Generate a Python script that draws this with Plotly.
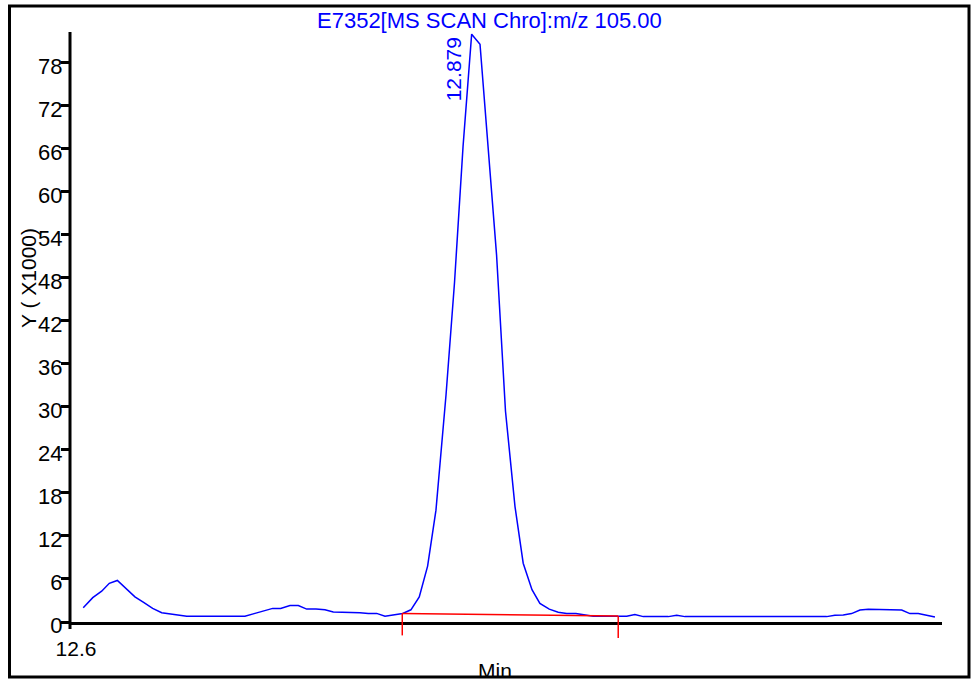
import plotly.graph_objects as go

# Extracted ion chromatogram, m/z 105.00
# retention time (min) and intensity (x1000 counts)
rt_min = [
    12.6092, 12.6158, 12.6220, 12.6273, 12.6329, 12.6389, 12.6451, 12.6514,
    12.6574, 12.6637, 12.6695, 12.6752, 12.6811, 12.6868, 12.6926, 12.6984,
    12.7042, 12.7099, 12.7158, 12.7215, 12.7285, 12.7347, 12.7408, 12.7463,
    12.7528, 12.7586, 12.7644, 12.7709, 12.7771, 12.7829, 12.7894, 12.7957,
    12.8014, 12.8072, 12.8130, 12.8188, 12.8245, 12.8311, 12.8368, 12.8426,
    12.8484, 12.8542, 12.8612, 12.8671, 12.8730, 12.8790, 12.8848, 12.8905,
    12.8963, 12.9025, 12.9091, 12.9148, 12.9209, 12.9264, 12.9329, 12.9391,
    12.9450, 12.9514, 12.9577, 12.9635, 12.9693, 12.9751, 12.9808, 12.9867,
    12.9924, 12.9982, 13.0040, 13.0098, 13.0156, 13.0214, 13.0272, 13.0329,
    13.0387, 13.0445, 13.0503, 13.0561, 13.0619, 13.0676, 13.0735, 13.0792,
    13.0850, 13.0908, 13.0966, 13.1024, 13.1082, 13.1140, 13.1197, 13.1256,
    13.1313, 13.1371, 13.1429, 13.1487, 13.1545, 13.1603, 13.1661, 13.1718,
    13.1777, 13.1834, 13.1892, 13.1950, 13.2008,
]
intensity_k = [
    2.0, 3.4, 4.3, 5.4, 5.8, 4.7, 3.5, 2.7,
    1.9, 1.3, 1.1, 1.0, 0.8, 0.8, 0.8, 0.8,
    0.8, 0.8, 0.8, 0.8, 1.2, 1.5, 1.9, 1.9,
    2.3, 2.3, 1.8, 1.8, 1.7, 1.4, 1.4, 1.4,
    1.3, 1.2, 1.2, 0.8, 1.0, 1.2, 1.7, 3.5,
    7.8, 15.6, 31.7, 47.4, 66.3, 82.0, 80.6, 66.4,
    51.2, 29.4, 16.1, 8.2, 4.5, 2.6, 1.8, 1.36,
    1.2, 1.2, 0.98, 0.8, 0.8, 0.8, 0.8, 0.8,
    1.03, 0.75, 0.75, 0.75, 0.75, 0.93, 0.75, 0.75,
    0.75, 0.75, 0.75, 0.75, 0.75, 0.75, 0.75, 0.75,
    0.75, 0.75, 0.75, 0.75, 0.75, 0.75, 0.75, 0.75,
    0.93, 0.98, 1.17, 1.68, 1.77, 1.73, 1.68, 1.68,
    1.68, 1.17, 1.17, 0.93, 0.7,
]

# Integrated peak: apex time, integration limits and baseline levels
peak_rt = 12.879
peak_start_rt = 12.8308
peak_end_rt = 12.9808
baseline_start_k = 1.2
baseline_end_k = 0.84

title_text = "E7352[MS SCAN Chro]:m/z 105.00"
y_title = "Y ( X1000)"
x_title = "Min"
y_tick_vals = [0, 6, 12, 18, 24, 30, 36, 42, 48, 54, 60, 66, 72, 78]
x_tick_vals = [12.6]

x_range = [12.6, 13.2057]
y_max = 82.3

FONT = "Liberation Sans, Arial, sans-serif"
BLUE = "#0000FF"
RED = "#FF0000"

W, H = 972, 679
ML, MR, MT, MB = 70, 30, 32, 57
plot_h = H - MT - MB


def px_to_paper_y(py):
    return (H - MB - py) / plot_h


def px_to_paper_x(px):
    return (px - ML) / (W - ML - MR)


fig = go.Figure()

fig.add_trace(go.Scatter(
    x=rt_min, y=intensity_k, mode="lines",
    line=dict(color=BLUE, width=1.5),
    hoverinfo="skip", showlegend=False,
))

# integration baseline
fig.add_trace(go.Scatter(
    x=[peak_start_rt, peak_end_rt], y=[baseline_start_k, baseline_end_k],
    mode="lines", line=dict(color=RED, width=1.5),
    hoverinfo="skip", showlegend=False,
))

shapes = []
# peak start / end markers hanging below the baseline
for rt, base in ((peak_start_rt, baseline_start_k), (peak_end_rt, baseline_end_k)):
    shapes.append(dict(
        type="line", xref="x", yref="paper", ysizemode="pixel",
        yanchor=base / y_max, x0=rt, x1=rt, y0=0, y1=-22,
        line=dict(color=RED, width=1.5), layer="above",
    ))

# y axis line slightly overshooting the time axis
shapes.append(dict(
    type="line", xref="paper", yref="paper",
    x0=0, x1=0, y0=px_to_paper_y(629), y1=1,
    line=dict(color="black", width=3), layer="above",
))

# outer frame
shapes.append(dict(
    type="rect", xref="paper", yref="paper",
    x0=px_to_paper_x(9.5), x1=px_to_paper_x(969),
    y0=px_to_paper_y(677), y1=px_to_paper_y(6),
    line=dict(color="black", width=3), fillcolor="rgba(0,0,0,0)", layer="above",
))

annotations = [
    dict(text=title_text, xref="paper", yref="paper",
         x=px_to_paper_x(489.5), y=px_to_paper_y(21), xanchor="center", yanchor="middle",
         showarrow=False, font=dict(family=FONT, size=22, color=BLUE)),
    dict(text=f"{peak_rt:.3f}", xref="x", yref="y",
         x=peak_rt, y=max(intensity_k), xanchor="right", yanchor="top",
         xshift=-5, yshift=-1, textangle=-90, showarrow=False,
         font=dict(family=FONT, size=21, color=BLUE)),
    dict(text=y_title, xref="paper", yref="paper",
         x=px_to_paper_x(28), y=px_to_paper_y(278), xanchor="center", yanchor="middle",
         textangle=-90, showarrow=False, font=dict(family=FONT, size=21, color="black")),
    dict(text=x_title, xref="paper", yref="paper",
         x=px_to_paper_x(495), y=px_to_paper_y(670), xanchor="center", yanchor="middle",
         showarrow=False, font=dict(family=FONT, size=21, color="black")),
]

fig.update_layout(
    width=W, height=H, autosize=False,
    margin=dict(l=ML, r=MR, t=MT, b=MB, pad=0),
    paper_bgcolor="white", plot_bgcolor="white",
    font=dict(family=FONT, size=21, color="black"),
    shapes=shapes, annotations=annotations,
    xaxis=dict(
        range=x_range, showgrid=False, zeroline=False,
        showline=True, linecolor="black", linewidth=3,
        ticks="", tickvals=x_tick_vals, ticktext=["12.6"],
        ticklabelshift=6, ticklabelstandoff=6,
        tickfont=dict(family=FONT, size=21, color="black"),
    ),
    yaxis=dict(
        range=[0, y_max], showgrid=False, zeroline=False,
        showline=False,
        ticks="outside", ticklen=8, tickwidth=2.5, tickcolor="black",
        tickvals=y_tick_vals, ticklabelstandoff=-6, ticklabelshift=3,
        tickfont=dict(family=FONT, size=22, color="black"),
    ),
)

fig.write_html("out.html")
